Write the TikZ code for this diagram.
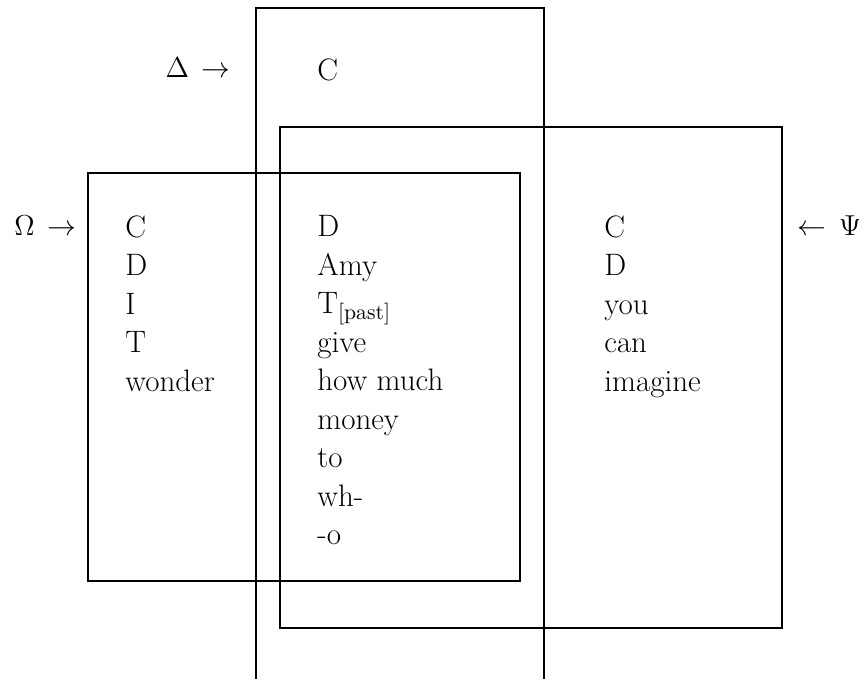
\documentclass[tikz,border=0pt]{standalone}
\usetikzlibrary{positioning}
\begin{document}
\begin{tikzpicture}[
  x=0.5pt, y=-0.5pt,
  frame/.style={draw, line width=1pt},
  col/.style={anchor=north west, inner sep=0pt, align=left,
              font=\fontsize{15.5}{19.25}\selectfont},
  tag/.style={inner sep=0pt, font=\fontsize{15.5}{18}\selectfont}
]
  \useasboundingbox (0,0) rectangle (865,679);
  % the three domains
  \draw[frame] (256,679) -- (256,8) -- (544,8) -- (544,679);
  \draw[frame] (280,127) rectangle (782,628);
  \draw[frame] (88,173) rectangle (520,581);
  % labels
  \node[tag, anchor=base east] (dlab) at (231,78) {$\Delta\,\rightarrow$};
  \node[tag, anchor=base west] (olab) at (14,235) {$\Omega\,\rightarrow$};
  \node[tag, anchor=base west] (plab) at (797,235) {$\leftarrow\,\Psi$};
  % columns
  \node[col] (dcol) at (317,58) {C};
  \node[col] (ocol) at (125,215) {C\\D\\I\\T\\wonder};
  \node[col] (mcol) at (317,215) {D\\Amy\\T\textsubscript{[past]}\\give\\how much\\money\\to\\wh-\\-o};
  \node[col] (pcol) at (604,215) {C\\D\\you\\can\\imagine};
\end{tikzpicture}
\end{document}
